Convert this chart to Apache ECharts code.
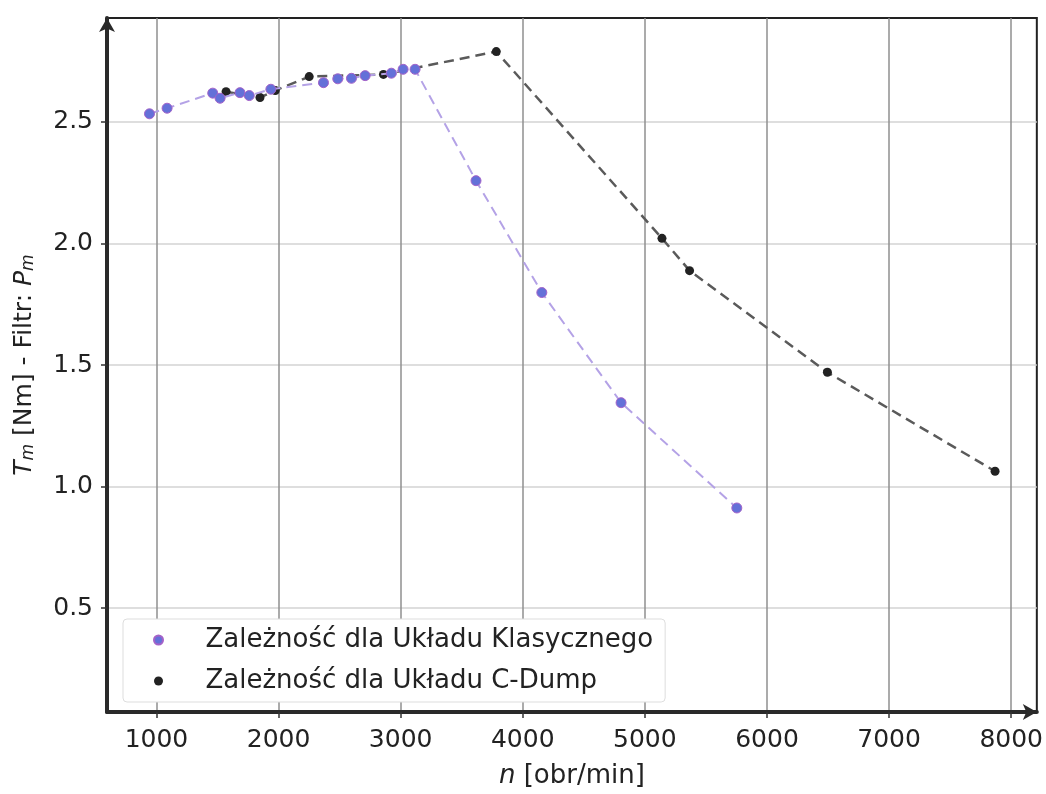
<!DOCTYPE html>
<html>
<head>
<meta charset="utf-8">
<script src="https://cdn.jsdelivr.net/npm/echarts@6/dist/echarts.min.js"></script>
<style>
  html, body { margin: 0; padding: 0; background: #fff; }
  #chart { width: 1046px; height: 794px; }
</style>
</head>
<body>
<div id="chart"></div>
<script>
// dane
const nKlasyczny = [943, 1087, 1461, 1521, 1684, 1760, 1937, 2368, 2485, 2597, 2709, 2924, 3020, 3118, 3617, 4156, 4805, 5753];
const tKlasyczny = [2.533, 2.556, 2.618, 2.597, 2.62, 2.608, 2.634, 2.661, 2.677, 2.679, 2.69, 2.70, 2.716, 2.716, 2.258, 1.798, 1.345, 0.912];
const nCDump = [1570, 1848, 1973, 2251, 2859, 3783, 5140, 5366, 6495, 7868];
const tCDump = [2.624, 2.60, 2.629, 2.686, 2.695, 2.789, 2.021, 1.888, 1.470, 1.063];
const xTicks = [1000, 2000, 3000, 4000, 5000, 6000, 7000, 8000];
const yTicks = [0.5, 1.0, 1.5, 2.0, 2.5];

const pairs = (xs, ys) => xs.map((x, i) => [x, ys[i]]);

const chart = echarts.init(document.getElementById('chart'));
const font = 'DejaVu Sans';

chart.setOption({
  animation: false,
  textStyle: { fontFamily: font },
  grid: {
    left: 107, right: 8, top: 18, bottom: 81,
    show: true, borderColor: '#222', borderWidth: 2
  },
  legend: {
    orient: 'vertical',
    left: 123, top: 619,
    padding: [8, 12, 8, 30],
    itemGap: 15,
    itemWidth: 48, itemHeight: 9,
    icon: 'circle',
    backgroundColor: '#fff',
    borderColor: '#ddd', borderWidth: 1, borderRadius: 4,
    textStyle: { fontSize: 26, color: '#222', fontFamily: font, padding: [0, 0, 0, 18] },
    data: ['Zależność dla Układu Klasycznego', 'Zależność dla Układu C-Dump']
  },
  xAxis: {
    type: 'value',
    min: 595, max: 8210,
    name: '{it|n} [obr/min]',
    nameLocation: 'middle',
    nameGap: 51,
    nameTextStyle: {
      fontSize: 26, color: '#222',
      rich: { it: { fontStyle: 'italic', fontSize: 26, color: '#222' } }
    },
    axisLine: { show: true, lineStyle: { color: '#2a2a2a', width: 4 }, symbol: ['none', 'arrow'], symbolSize: [12, 14] },
    axisTick: { show: true, length: 6, customValues: xTicks, lineStyle: { color: '#333', width: 1.5 } },
    axisLabel: { customValues: xTicks, fontSize: 25, color: '#222', margin: 16, formatter: v => String(v) },
    splitLine: { show: true, lineStyle: { color: '#8f8f8f', width: 1.5 } }
  },
  yAxis: {
    type: 'value',
    min: 0.073, max: 2.927,
    name: '{it|T}{sub|m} [Nm] - Filtr: {it|P}{sub|m}',
    nameLocation: 'middle',
    nameRotate: 90,
    nameGap: 70,
    nameTextStyle: {
      fontSize: 25, color: '#222',
      rich: {
        it: { fontStyle: 'italic', fontSize: 25, color: '#222' },
        sub: { fontStyle: 'italic', fontSize: 17, color: '#222', verticalAlign: 'bottom', padding: [9, 0, 0, 0] }
      }
    },
    axisLine: { show: true, lineStyle: { color: '#2a2a2a', width: 4 }, symbol: ['none', 'arrow'], symbolSize: [12, 14] },
    axisTick: { show: true, length: 6, customValues: yTicks, lineStyle: { color: '#333', width: 1.5 } },
    axisLabel: { customValues: yTicks, fontSize: 25, color: '#222', margin: 14, formatter: v => v.toFixed(1) },
    splitLine: { show: true, lineStyle: { color: '#d3d3d3', width: 1.5 } }
  },
  series: [
    {
      name: 'Zależność dla Układu Klasycznego',
      type: 'line',
      data: pairs(nKlasyczny, tKlasyczny),
      symbol: 'circle', symbolSize: 10, showSymbol: true,
      itemStyle: { color: '#6470d8', borderColor: '#a462c8', borderWidth: 1 },
      lineStyle: { color: '#b4a2e6', width: 2, type: [10, 6] },
      z: 3
    },
    {
      name: 'Zależność dla Układu C-Dump',
      type: 'line',
      data: pairs(nCDump, tCDump),
      symbol: 'circle', symbolSize: 9, showSymbol: true,
      itemStyle: { color: '#222' },
      lineStyle: { color: '#5a5a5a', width: 2.5, type: [10, 6] },
      z: 2
    }
  ]
});
</script>
</body>
</html>
